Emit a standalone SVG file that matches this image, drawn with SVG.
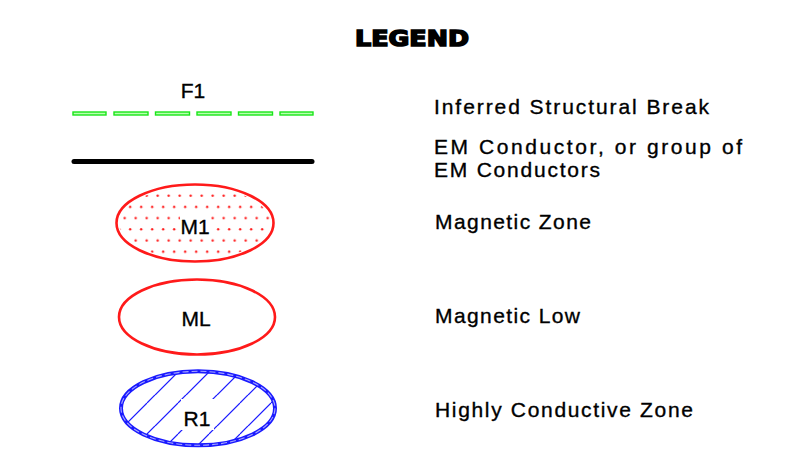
<svg xmlns="http://www.w3.org/2000/svg" width="793" height="458" viewBox="0 0 793 458">
<style>
  .lbl { font-family: "Liberation Sans", Arial, sans-serif; font-size: 21px; fill: #000; stroke: #000; stroke-width: 0.35; }
  .node-lbl { font-family: "Liberation Sans", Arial, sans-serif; font-size: 21px; fill: #000; stroke: #000; stroke-width: 0.35; text-anchor: middle; }
  .dash { fill: #b8ffb0; stroke: #19e619; stroke-width: 1.4; }
  .red { fill: none; stroke: #ff1a1a; stroke-width: 2.6; }
</style>
<defs>
  <pattern id="dots" patternUnits="userSpaceOnUse" x="152.2" y="190.1" width="11" height="22.4">
    <circle cx="5.5" cy="5.6" r="1.2" fill="#ff1a1a"/>
    <circle cx="0" cy="16.8" r="1.2" fill="#ff1a1a"/>
    <circle cx="11" cy="16.8" r="1.2" fill="#ff1a1a"/>
  </pattern>
  <pattern id="hatch" patternUnits="userSpaceOnUse" x="0" y="0" width="31" height="31">
    <path d="M0,23 L23,0 M23,31 L31,23" stroke="#1a1aff" stroke-width="1.2" fill="none"/>
  </pattern>
</defs>

<g id="title">
  <text x="355" y="46" font-family="DejaVu Sans, sans-serif" font-weight="bold" font-size="22" textLength="114" lengthAdjust="spacingAndGlyphs" stroke="#000" stroke-width="1.6">LEGEND</text>
</g>

<g id="fault">
  <rect class="dash" x="73" y="112" width="33" height="3"/>
  <rect class="dash" x="114" y="112" width="34" height="3"/>
  <rect class="dash" x="155.5" y="112" width="34" height="3"/>
  <rect class="dash" x="197" y="112" width="34" height="3"/>
  <rect class="dash" x="238.5" y="112" width="34" height="3"/>
  <rect class="dash" x="280" y="112" width="33" height="3"/>
  <text class="node-lbl" x="193" y="97.5">F1</text>
</g>

<g id="conductor">
  <line x1="74" y1="161.5" x2="312" y2="161.5" stroke="#000" stroke-width="5" stroke-linecap="round"/>
</g>

<g id="magnetic-zone">
  <ellipse cx="195" cy="223" rx="76" ry="36" fill="url(#dots)" stroke="none"/>
  <rect x="180" y="213" width="30" height="22" fill="#fff"/>
  <ellipse class="red" cx="195" cy="223" rx="78.5" ry="38.5"/>
  <text class="node-lbl" x="195" y="233.5">M1</text>
</g>

<g id="magnetic-low">
  <ellipse class="red" cx="197" cy="317" rx="78" ry="37.5"/>
  <text class="node-lbl" x="196" y="325.5">ML</text>
</g>

<g id="conductive-zone">
  <ellipse cx="198" cy="408.3" rx="77" ry="37" fill="url(#hatch)" stroke="none"/>
  <rect x="181" y="399" width="33" height="31" fill="#fff"/>
  <ellipse cx="198" cy="408.3" rx="77" ry="37" fill="none" stroke="#1a1aff" stroke-width="4"/>
  <ellipse cx="198" cy="408.3" rx="77" ry="37" fill="none" stroke="#a8a8ff" stroke-width="1.1" stroke-dasharray="6 3"/>
  <text class="node-lbl" x="197" y="425.5">R1</text>
</g>

<g id="labels">
  <text class="lbl" x="434" y="113.5" textLength="275" lengthAdjust="spacing">Inferred Structural Break</text>
  <text class="lbl" x="434" y="153.5" textLength="308" lengthAdjust="spacing">EM Conductor, or group of</text>
  <text class="lbl" x="434" y="176.5" textLength="166" lengthAdjust="spacing">EM Conductors</text>
  <text class="lbl" x="435" y="229" textLength="156" lengthAdjust="spacing">Magnetic Zone</text>
  <text class="lbl" x="435" y="323" textLength="145" lengthAdjust="spacing">Magnetic Low</text>
  <text class="lbl" x="435" y="416.5" textLength="258" lengthAdjust="spacing">Highly Conductive Zone</text>
</g>
</svg>
